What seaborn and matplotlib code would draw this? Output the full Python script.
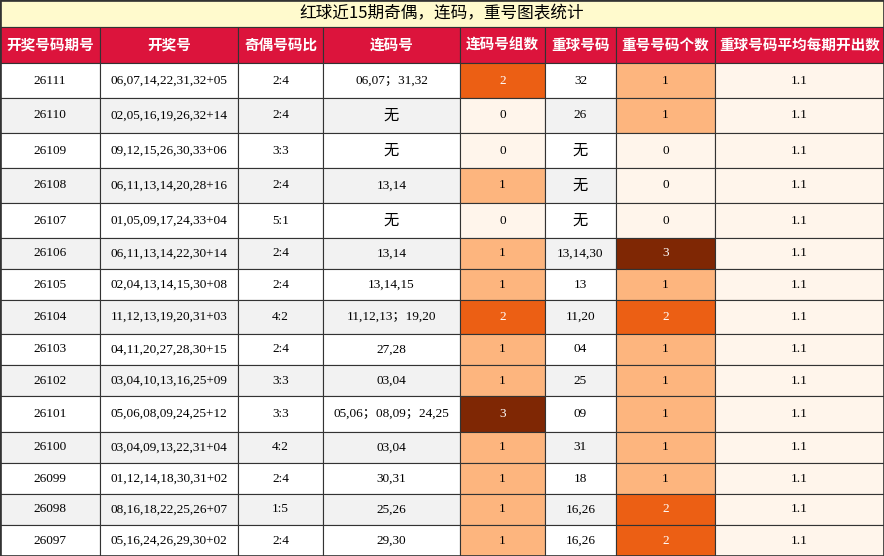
import matplotlib.pyplot as plt
from matplotlib.patches import Rectangle
import seaborn as sns

sns.set_theme(style="white")
plt.rcParams["font.family"] = ["Liberation Serif", "Noto Sans CJK SC"]

title = "红球近15期奇偶，连码，重号图表统计"
headers = ["开奖号码期号", "开奖号", "奇偶号码比", "连码号", "连码号组数", "重球号码", "重号号码个数", "重球号码平均每期开出数"]
issues = ["26111", "26110", "26109", "26108", "26107", "26106", "26105", "26104",
          "26103", "26102", "26101", "26100", "26099", "26098", "26097"]
draws = ["06,07,14,22,31,32+05", "02,05,16,19,26,32+14", "09,12,15,26,30,33+06",
         "06,11,13,14,20,28+16", "01,05,09,17,24,33+04", "06,11,13,14,22,30+14",
         "02,04,13,14,15,30+08", "11,12,13,19,20,31+03", "04,11,20,27,28,30+15",
         "03,04,10,13,16,25+09", "05,06,08,09,24,25+12", "03,04,09,13,22,31+04",
         "01,12,14,18,30,31+02", "08,16,18,22,25,26+07", "05,16,24,26,29,30+02"]
odd_even = ["2:4", "2:4", "3:3", "2:4", "5:1", "2:4", "2:4", "4:2", "2:4", "3:3",
            "3:3", "4:2", "2:4", "1:5", "2:4"]
consec = ["06,07；31,32", "无", "无", "13,14", "无", "13,14", "13,14,15", "11,12,13；19,20",
          "27,28", "03,04", "05,06；08,09；24,25", "03,04", "30,31", "25,26", "29,30"]
consec_count = [2, 0, 0, 1, 0, 1, 1, 2, 1, 1, 3, 1, 1, 1, 1]
repeat = ["32", "26", "无", "无", "无", "13,14,30", "13", "11,20", "04", "25", "09", "31",
          "18", "16,26", "16,26"]
repeat_count = [1, 1, 0, 0, 0, 3, 1, 2, 1, 1, 1, 1, 1, 2, 2]
avg_repeat = [1.1] * 15

col_w = [100, 138, 85, 137, 85, 71, 99, 169]
row_h = [35, 35, 35, 35, 35, 31, 31, 34, 31, 31, 36, 31, 31, 31, 31]
title_h, head_h = 27, 36
level_colors = {0: "#fff5eb", 1: "#fdb57e", 2: "#ec5f14", 3: "#7f2704"}
line_c = "#333333"

fig = plt.figure(figsize=(8.84, 5.56), dpi=100)
ax = fig.add_axes([0, 0, 1, 1])
W = sum(col_w)
H = title_h + head_h + sum(row_h)
ax.set_xlim(0, W)
ax.set_ylim(H, 0)
ax.axis("off")

def cell(x, y, w, h, fc, text, color="black", weight="normal", size=10, family=None):
    ax.add_patch(Rectangle((x, y), w, h, facecolor=fc, edgecolor=line_c, linewidth=0.8))
    kw = {}
    if family:
        kw["family"] = family
    ax.text(x + w / 2, y + h / 2, text, ha="center", va="center", color=color,
            fontsize=size, fontweight=weight, **kw)

cell(0, 0, W, title_h, "#fffacd", title, size=12, family=["Noto Sans CJK SC"])

x = 0
for h, w in zip(headers, col_w):
    cell(x, title_h, w, head_h, "#dc143c", h, color="white", weight="bold", size=10.5,
         family=["Noto Sans CJK SC"])
    x += w

y = title_h + head_h
for i in range(len(issues)):
    bg = "white" if i % 2 == 0 else "#f2f2f2"
    vals = [issues[i], draws[i], odd_even[i], consec[i], str(consec_count[i]),
            repeat[i], str(repeat_count[i]), str(avg_repeat[i])]
    fcs = [bg, bg, bg, bg, level_colors[consec_count[i]], bg,
           level_colors[repeat_count[i]], level_colors[0]]
    x = 0
    for j, (v, fc, w) in enumerate(zip(vals, fcs, col_w)):
        tc = "white" if fc in (level_colors[2], level_colors[3]) else "black"
        sz = 11 if v == "无" else 9.5
        cell(x, y, w, row_h[i], fc, v, color=tc, size=sz)
        x += w
    y += row_h[i]

ax.add_patch(Rectangle((0.5, 0.5), W - 1, H - 1, fill=False, edgecolor=line_c, linewidth=1.2))
fig.savefig("out.png", dpi=100)
